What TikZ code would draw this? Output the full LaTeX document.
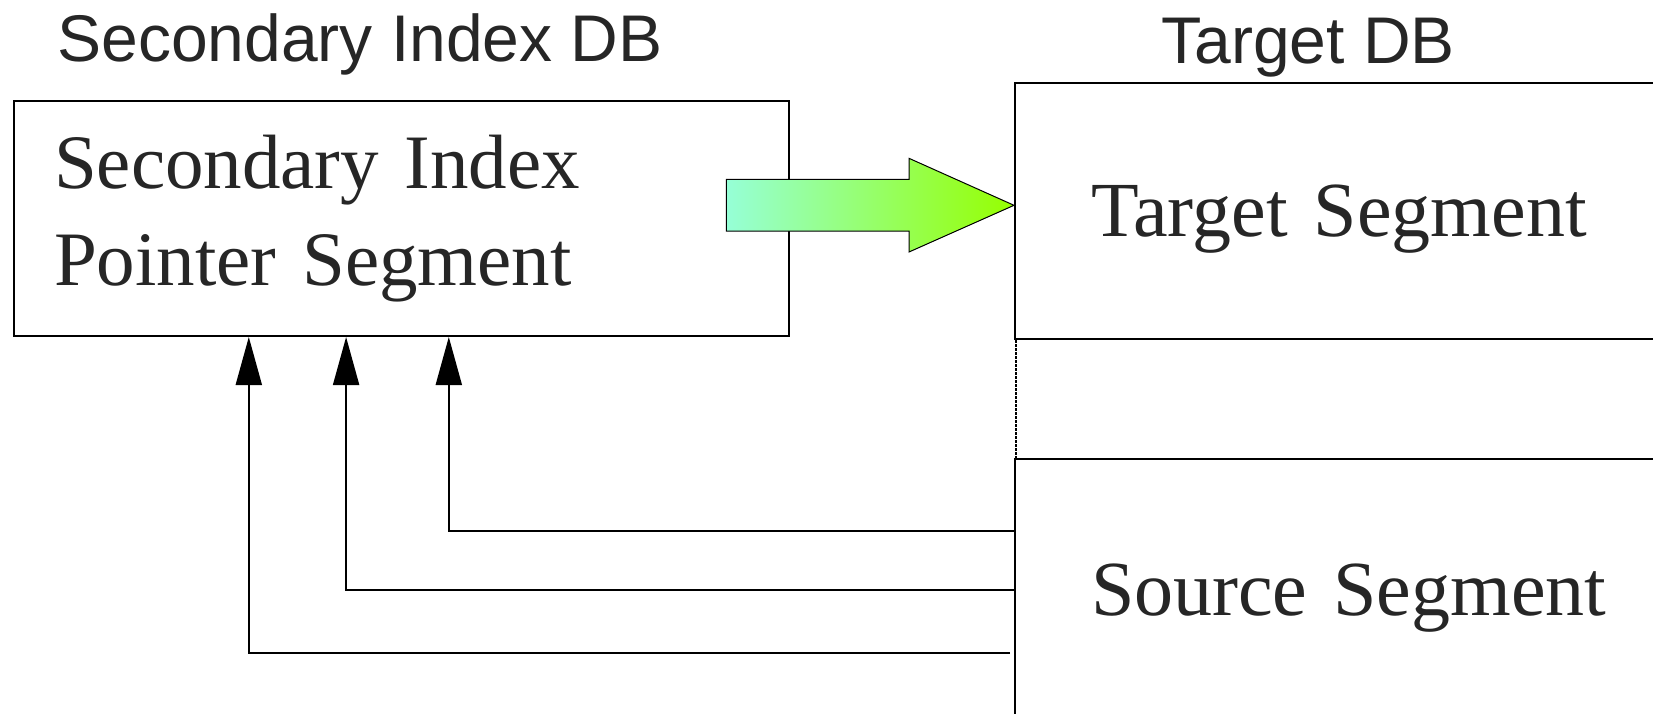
\documentclass[tikz,border=0pt]{standalone}
\usepackage{fontspec}
\setmainfont{Liberation Serif}
\newfontfamily\hdrfont{Liberation Sans}
\usetikzlibrary{arrows.meta}

\definecolor{ink}{HTML}{262626}
\definecolor{tailcol}{RGB}{150,255,215}
\definecolor{tipcol}{RGB}{150,255,0}

\begin{document}
\begin{tikzpicture} [x = 0.5pt, y = -0.5pt,
  hdr/.style = {anchor = base west, inner sep = 0pt, text = ink, font = \hdrfont\fontsize{33}{40}\selectfont},
  seg/.style = {draw, line width = 1pt, rectangle, anchor = north west, align = left, text = ink, font = \fontsize{39}{48.5}\selectfont},
  ptr/.style = {line width = 1pt, -{Triangle[length = 24pt, width = 13pt]}}]
\useasboundingbox (0,0) rectangle (1653,713);
\clip (0,0) rectangle (1653,713);
\node[hdr] (t1) at (57,61) {Secondary Index DB};
\node[hdr] (t2) at (1161,63) {Target DB};
\node[seg, font = \fontsize{38.5}{48.5}\selectfont, minimum width = 387.5pt, minimum height = 117.5pt, text width = 347pt, inner xsep = 20.2pt] (x1) at (12.6,100) {Secondary Index\\Pointer Segment};
\node[seg, minimum height = 128.3pt, text width = 320pt, inner xsep = 38pt, text depth = 0pt] (y1) at (1014,81.7) {Target Segment};
\node[seg, minimum height = 131pt, text width = 320pt, inner xsep = 38pt, text depth = 0pt] (y2) at (1014,458) {Source Segment};
\draw[line width = 1pt, dash pattern = on 1.2pt off 0.8pt] ([xshift = 1pt]y1.south west) -- ([xshift = 1pt]y2.north west);
\draw[ptr] ([yshift = 29.5pt]y2.west) -| ([xshift = 23.85pt]x1.south);
\draw[ptr] (y2.west) -| ([xshift = -27.5pt]x1.south);
\draw[ptr] ([xshift = -2pt, yshift = -31.35pt]y2.west) -| ([xshift = -76.15pt]x1.south);
\path[draw = black, line width = 0.5pt, left color = tailcol, right color = tipcol]
  ([yshift = 2.85pt]y1.west) -- ++(-105,-47) -- ++(0,21) -- ++(-182.6,0) -- ++(0,51.7) -- ++(182.6,0) -- ++(0,21) -- cycle;
\end{tikzpicture}
\end{document}
